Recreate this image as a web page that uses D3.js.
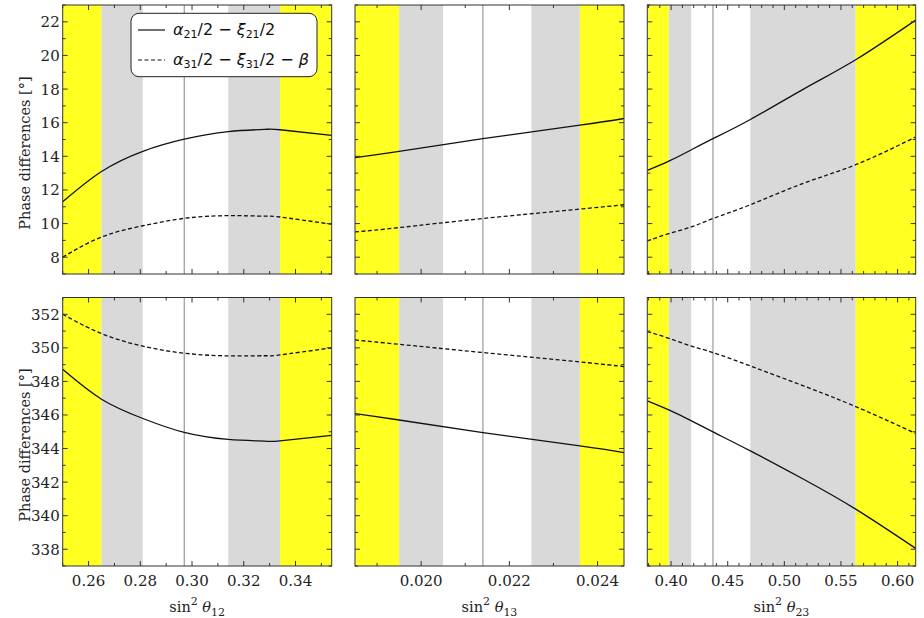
<!DOCTYPE html>
<html>
<head>
<meta charset="UTF-8">
<style>
  body { margin: 0; padding: 0; background: #fff; }
  svg { display: block; }
  .tick-label { font-family: "DejaVu Serif", serif; font-size: 15px; fill: #222; }
  .axis-title { font-family: "DejaVu Serif", serif; font-size: 14.5px; fill: #222; }
  .legend-text { font-family: "DejaVu Sans", sans-serif; font-size: 16px; fill: #111; }
</style>
</head>
<body>
<svg id="chart"></svg>
<script src="https://d3js.org/d3.v7.min.js"></script>
<script>
const width = 924, height = 618;

// sin^2 theta_12 panel
const s12 = [0.250, 0.265, 0.281, 0.297, 0.314, 0.328, 0.334, 0.354];
const s12Top21 = [11.3, 13.1, 14.3, 15.02, 15.47, 15.6, 15.58, 15.25];
const s12Top31 = [8.0, 9.2, 9.87, 10.31, 10.47, 10.44, 10.39, 9.96];
const s12Bot21 = [348.72, 346.94, 345.79, 344.96, 344.54, 344.44, 344.46, 344.79];
const s12Bot31 = [352.0, 350.85, 350.1, 349.68, 349.52, 349.53, 349.58, 350.0];
const s12Bands = [0.250, 0.265, 0.281, 0.297, 0.314, 0.334, 0.354]; // 3s,2s,1s,best,1s,2s,3s

// sin^2 theta_13 panel
const s13 = [0.0185, 0.0195, 0.0214, 0.0236, 0.0246];
const s13Top21 = [13.92, 14.29, 15.05, 15.85, 16.25];
const s13Top31 = [9.5, 9.76, 10.3, 10.86, 11.12];
const s13Bot21 = [346.08, 345.7, 344.95, 344.16, 343.76];
const s13Bot31 = [350.47, 350.21, 349.72, 349.16, 348.88];
const s13Bands = [0.0185, 0.0195, 0.0205, 0.0214, 0.0225, 0.0236, 0.0246];

// sin^2 theta_23 panel
const s23 = [0.379, 0.398, 0.418, 0.437, 0.470, 0.517, 0.563, 0.616];
const s23Top21 = [13.16, 13.71, 14.39, 15.05, 16.19, 18.0, 19.74, 22.1];
const s23Top31 = [8.96, 9.4, 9.8, 10.3, 11.12, 12.4, 13.5, 15.15];
const s23Bot21 = [346.84, 346.3, 345.65, 344.99, 343.86, 342.17, 340.39, 338.05];
const s23Bot31 = [350.97, 350.57, 350.1, 349.72, 348.92, 347.73, 346.5, 344.9];
const s23Bands = [0.379, 0.398, 0.418, 0.437, 0.470, 0.563, 0.616];

// axis ticks
const s12Major = [0.26, 0.28, 0.30, 0.32, 0.34];
const s12Minor = [0.25, 0.27, 0.29, 0.31, 0.33, 0.35];
const s13Major = [0.020, 0.022, 0.024];
const s13Minor = [0.019, 0.021, 0.023];
const s23Major = [0.40, 0.45, 0.50, 0.55, 0.60];
const s23Minor = [0.38, 0.39, 0.41, 0.42, 0.43, 0.44, 0.46, 0.47, 0.48, 0.49, 0.51, 0.52, 0.53, 0.54, 0.56, 0.57, 0.58, 0.59, 0.61];
const topMajor = [8, 10, 12, 14, 16, 18, 20, 22];
const topMinor = [7, 9, 11, 13, 15, 17, 19, 21, 23];
const botMajor = [338, 340, 342, 344, 346, 348, 350, 352];
const botMinor = [337, 339, 341, 343, 345, 347, 349, 351, 353];

const yTitle = "Phase differences [°]";

const svg = d3.select("#chart").attr("width", width).attr("height", height);

const colX = [[62.7, 331.7], [355, 624], [647.3, 915.7]];
const rowY = [[5, 274], [297.5, 566]];

const cols = [
  { xs: s12, bands: s12Bands, major: s12Major, minor: s12Minor, fmt: d3.format(".2f"),
    top: [s12Top21, s12Top31], bot: [s12Bot21, s12Bot31], sub: "12" },
  { xs: s13, bands: s13Bands, major: s13Major, minor: s13Minor, fmt: d3.format(".3f"),
    top: [s13Top21, s13Top31], bot: [s13Bot21, s13Bot31], sub: "13" },
  { xs: s23, bands: s23Bands, major: s23Major, minor: s23Minor, fmt: d3.format(".2f"),
    top: [s23Top21, s23Top31], bot: [s23Bot21, s23Bot31], sub: "23" }
];
const rows = [
  { domain: [7, 23], major: topMajor, minor: topMinor, key: "top", titleY: 153 },
  { domain: [337, 353], major: botMajor, minor: botMinor, key: "bot", titleY: 445 }
];

const bandFill = ["#ffff22", "#d9d9d9", "#ffffff", "#ffffff", "#d9d9d9", "#ffff22"];
const frameColor = "#333";

rows.forEach((row, ri) => {
  cols.forEach((col, ci) => {
    const x = d3.scaleLinear().domain([col.bands[0], col.bands[6]]).range(colX[ci]);
    const y = d3.scaleLinear().domain(row.domain).range([rowY[ri][1], rowY[ri][0]]);
    const id = "clip" + ri + ci;
    svg.append("clipPath").attr("id", id).append("rect")
      .attr("x", colX[ci][0]).attr("y", rowY[ri][0])
      .attr("width", colX[ci][1] - colX[ci][0]).attr("height", rowY[ri][1] - rowY[ri][0]);
    const g = svg.append("g");
    const inner = g.append("g").attr("clip-path", `url(#${id})`);

    // confidence bands
    for (let i = 0; i < 6; i++) {
      inner.append("rect")
        .attr("x", x(col.bands[i])).attr("y", rowY[ri][0])
        .attr("width", x(col.bands[i + 1]) - x(col.bands[i]))
        .attr("height", rowY[ri][1] - rowY[ri][0])
        .attr("fill", bandFill[i]);
    }
    // best fit line
    inner.append("line")
      .attr("x1", x(col.bands[3])).attr("x2", x(col.bands[3]))
      .attr("y1", rowY[ri][0]).attr("y2", rowY[ri][1])
      .attr("stroke", "#999").attr("stroke-width", 1.2);

    const line = d3.line().x(d => x(d[0])).y(d => y(d[1])).curve(d3.curveNatural);
    const series = col[row.key];
    series.forEach((vals, si) => {
      inner.append("path")
        .attr("d", line(col.xs.map((v, k) => [v, vals[k]])))
        .attr("fill", "none").attr("stroke", "#111").attr("stroke-width", 1.3)
        .attr("stroke-dasharray", si === 1 ? "4,2.5" : null);
    });

    // ticks on all sides
    const [x0, x1] = colX[ci], [y0, y1] = rowY[ri];
    const tickG = g.append("g").attr("stroke", frameColor).attr("stroke-width", 1);
    const xt = col.major.map(v => [v, 5]).concat(col.minor.map(v => [v, 3]));
    xt.forEach(([v, len]) => {
      tickG.append("line").attr("x1", x(v)).attr("x2", x(v)).attr("y1", y1).attr("y2", y1 - len);
      tickG.append("line").attr("x1", x(v)).attr("x2", x(v)).attr("y1", y0).attr("y2", y0 + len);
    });
    const yt = row.major.map(v => [v, 5]).concat(row.minor.map(v => [v, 3]));
    yt.forEach(([v, len]) => {
      tickG.append("line").attr("y1", y(v)).attr("y2", y(v)).attr("x1", x0).attr("x2", x0 + len);
      tickG.append("line").attr("y1", y(v)).attr("y2", y(v)).attr("x1", x1).attr("x2", x1 - len);
    });
    g.append("rect").attr("x", x0).attr("y", y0).attr("width", x1 - x0).attr("height", y1 - y0)
      .attr("fill", "none").attr("stroke", frameColor).attr("stroke-width", 1);

    if (ci === 0) {
      row.major.forEach(v => {
        g.append("text").attr("class", "tick-label")
          .attr("x", x0 - 3).attr("y", y(v) + 5.5)
          .attr("text-anchor", "end").text(v);
      });
      g.append("text").attr("class", "axis-title")
        .attr("transform", `translate(29.5,${row.titleY}) rotate(-90)`)
        .attr("text-anchor", "middle")
        .text(yTitle);
    }
    if (ri === 1) {
      col.major.forEach(v => {
        g.append("text").attr("class", "tick-label")
          .attr("x", x(v)).attr("y", 586)
          .attr("text-anchor", "middle").text(col.fmt(v));
      });
      const t = g.append("text").attr("class", "axis-title")
        .attr("x", (x0 + x1) / 2).attr("y", 611.5).attr("text-anchor", "middle")
        .attr("font-size", "15px");
      t.append("tspan").text("sin");
      t.append("tspan").attr("font-size", "11px").attr("dy", -7).text("2");
      t.append("tspan").attr("dy", 7).text(" ");
      t.append("tspan").attr("font-style", "italic").text("θ");
      t.append("tspan").attr("font-size", "11px").attr("dy", 4).text(col.sub);
    }
  });
});

// legend
const lg = svg.append("g");
lg.append("rect").attr("x", 131).attr("y", 13.3).attr("width", 186).attr("height", 63.4)
  .attr("rx", 8).attr("fill", "#fff").attr("stroke", "#222").attr("stroke-width", 1);
const legendRows = [
  { dash: null, y: 35, parts: [["α", "i"], ["21", "s"], ["/2 − ", "n"], ["ξ", "i"], ["21", "s"], ["/2", "n"]] },
  { dash: "4,2.5", y: 65, parts: [["α", "i"], ["31", "s"], ["/2 − ", "n"], ["ξ", "i"], ["31", "s"], ["/2 − ", "n"], ["β", "i"]] }
];
legendRows.forEach(r => {
  lg.append("line").attr("x1", 138).attr("x2", 165).attr("y1", r.y - 5).attr("y2", r.y - 5)
    .attr("stroke", "#111").attr("stroke-width", 1.2).attr("stroke-dasharray", r.dash);
  const t = lg.append("text").attr("class", "legend-text").attr("x", 173).attr("y", r.y);
  let shifted = false;
  r.parts.forEach(([s, k]) => {
    const ts = t.append("tspan").text(s);
    if (k === "i") ts.attr("font-style", "italic");
    if (k === "s") { ts.attr("font-size", "11px").attr("dy", 3); shifted = true; }
    else if (shifted) { ts.attr("dy", -3); shifted = false; }
  });
});
</script>
</body>
</html>
